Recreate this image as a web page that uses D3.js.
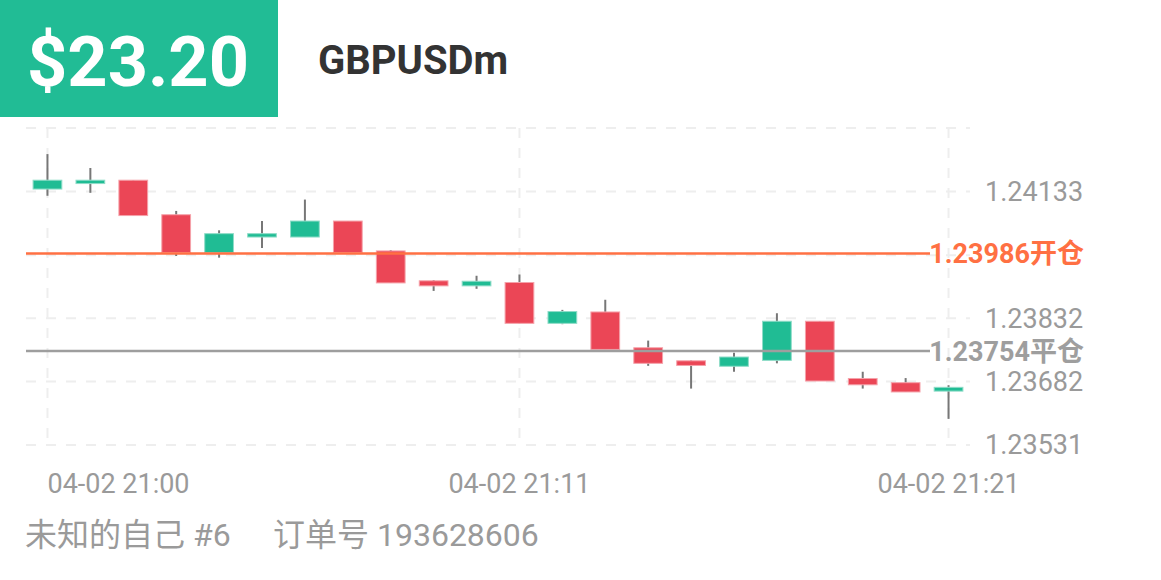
<!DOCTYPE html>
<html>
<head>
<meta charset="utf-8">
<script src="https://cdn.jsdelivr.net/npm/d3@7"></script>
<style>
  html, body { margin: 0; padding: 0; background: #fff; }
  svg { display: block; font-family: Roboto, "Noto Sans CJK SC", sans-serif; }
</style>
</head>
<body>
<svg id="chart" width="1161" height="580"></svg>
<script>
// ---- data ----
const profitText = "$23.20";
const symbol = "GBPUSDm";
const times = ["21:00","21:01","21:02","21:03","21:04","21:05","21:06","21:07","21:08","21:09","21:10",
               "21:11","21:12","21:13","21:14","21:15","21:16","21:17","21:18","21:19","21:20","21:21"];
const opens  = [1.24139,1.24152,1.24160,1.24078,1.23988,1.24025,1.24025,1.24063,1.23992,1.23921,1.23909,
                1.23917,1.23820,1.23847,1.23762,1.23731,1.23718,1.23732,1.23825,1.23689,1.23679,1.23659];
const highs  = [1.24222,1.24189,1.24160,1.24087,1.24041,1.24063,1.24114,1.24063,1.23994,1.23923,1.23933,
                1.23936,1.23852,1.23876,1.23779,1.23732,1.23750,1.23844,1.23825,1.23705,1.23690,1.23673];
const lows   = [1.24123,1.24130,1.24076,1.23980,1.23976,1.23999,1.24025,1.23988,1.23916,1.23897,1.23902,
                1.23820,1.23818,1.23758,1.23719,1.23665,1.23705,1.23725,1.23683,1.23665,1.23657,1.23593];
const closes = [1.24160,1.24160,1.24076,1.23988,1.24033,1.24033,1.24063,1.23988,1.23916,1.23909,1.23920,
                1.23820,1.23848,1.23758,1.23725,1.23720,1.23740,1.23825,1.23683,1.23674,1.23657,1.23668];
const gridValues = [1.23531,1.23682,1.23832,1.23982,1.24133,1.24284];
const tickLabels = ["1.23531","1.23682","1.23832","","1.24133",""];
const openPrice = 1.23986, openLabel = "1.23986开仓";
const closePrice = 1.23754, closeLabel = "1.23754平仓";
const timeTickIdx = [0, 11, 21];
const timeTickLabels = ["04-02 21:00","04-02 21:11","04-02 21:21"];
const footerLeft = "未知的自己 #6";
const footerRight = "订单号 193628606";

const candles = times.map((t,i)=>({t, o:opens[i], h:highs[i], l:lows[i], c:closes[i]}));

// ---- layout ----
const svg = d3.select("#chart");
const plotL = 26, plotR = 970, plotT = 128, plotB = 445;
const GREEN = "#20bc94", RED = "#eb4656", ORANGE = "#ff7043", GRAY = "#9e9e9e", TXT = "#9a9a9a";

const x = d3.scalePoint().domain(times).range([plotL, plotR]).padding(0.5);
const y = d3.scaleLinear().domain([gridValues[0], gridValues[gridValues.length-1]]).range([plotB, plotT]);
const bodyW = x.step() * 0.67;

// header
svg.append("rect").attr("x",0).attr("y",0).attr("width",278).attr("height",117).attr("fill","#21bc95");
svg.append("text").attr("x",27).attr("y",86).attr("fill","#fff")
  .attr("font-size",71).attr("font-weight",700).attr("textLength",222).attr("lengthAdjust","spacingAndGlyphs")
  .text(profitText);
svg.append("text").attr("x",318).attr("y",74).attr("fill","#333")
  .attr("font-size",40).attr("font-weight",700).text(symbol);

// grid
const grid = svg.append("g").attr("stroke","#eeeeee").attr("stroke-width",2).attr("stroke-dasharray","10,10");
grid.selectAll("line.h").data(gridValues).join("line").attr("class","h")
  .attr("x1",plotL).attr("x2",plotR).attr("y1",d=>y(d)).attr("y2",d=>y(d));
grid.selectAll("line.v").data(timeTickIdx).join("line").attr("class","v")
  .attr("x1",i=>x(times[i])).attr("x2",i=>x(times[i])).attr("y1",plotT).attr("y2",plotB);

// y tick labels
svg.append("g").selectAll("text").data(gridValues.map((v,i)=>({v,l:tickLabels[i]})).filter(d=>d.l))
  .join("text").attr("x",985).attr("y",d=>y(d.v)).attr("dy","0.35em")
  .attr("font-size",27).attr("fill",TXT).text(d=>d.l);

// candles
const cg = svg.append("g");
const cand = cg.selectAll("g").data(candles).join("g");
cand.append("line").attr("x1",d=>x(d.t)).attr("x2",d=>x(d.t))
  .attr("y1",d=>y(d.h)).attr("y2",d=>y(d.l)).attr("stroke","#777").attr("stroke-width",2);
cand.append("rect")
  .attr("x",d=>x(d.t)-bodyW/2).attr("width",bodyW)
  .attr("y",d=>y(Math.max(d.o,d.c)))
  .attr("height",d=>Math.max(3, Math.abs(y(d.o)-y(d.c))))
  .attr("fill",d=>d.c>=d.o?GREEN:RED)
  .attr("stroke",d=>d.c>=d.o?"#8fdcc8":"#f5a2aa").attr("stroke-width",1);

// open / close lines
const lineEnd = 930;
svg.append("line").attr("x1",plotL).attr("x2",lineEnd).attr("y1",y(openPrice)).attr("y2",y(openPrice))
  .attr("stroke",ORANGE).attr("stroke-width",2.5);
svg.append("text").attr("x",1084).attr("y",y(openPrice)).attr("dy","0.35em").attr("text-anchor","end")
  .attr("font-size",27).attr("font-weight",700).attr("fill",ORANGE).text(openLabel);
svg.append("line").attr("x1",plotL).attr("x2",lineEnd).attr("y1",y(closePrice)).attr("y2",y(closePrice))
  .attr("stroke",GRAY).attr("stroke-width",2.5);
svg.append("text").attr("x",1084).attr("y",y(closePrice)).attr("dy","0.35em").attr("text-anchor","end")
  .attr("font-size",27).attr("font-weight",700).attr("fill",GRAY).text(closeLabel);

// x labels
svg.append("g").selectAll("text").data(timeTickIdx).join("text")
  .attr("x",i=>x(times[i]))
  .attr("text-anchor",(i,k)=> k===0 ? "start" : "middle")
  .attr("y",493).attr("font-size",27).attr("fill",TXT)
  .text((i,k)=>timeTickLabels[k]);

// footer
svg.append("text").attr("x",25).attr("y",546).attr("font-size",32).attr("fill",TXT).text(footerLeft);
svg.append("text").attr("x",273).attr("y",546).attr("font-size",32).attr("fill",TXT).text(footerRight);
</script>
</body>
</html>
